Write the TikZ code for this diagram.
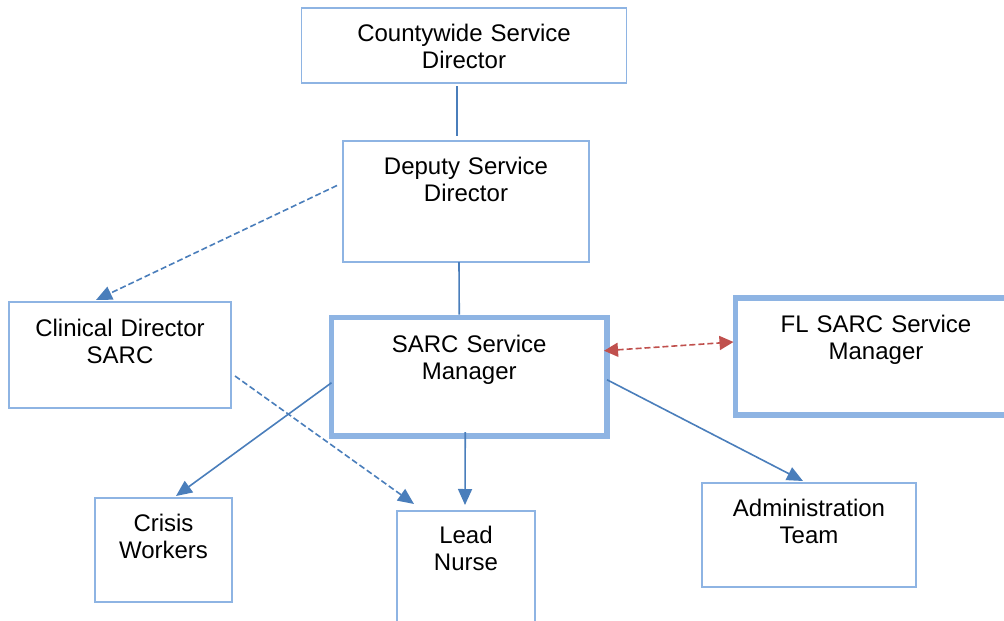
\documentclass[tikz,border=0pt]{standalone}
\usepackage{fontspec}
\setmainfont{Liberation Sans}
\usepackage{xcolor}
\usetikzlibrary{arrows.meta}

\definecolor{boxblue}{HTML}{8EB4E3}
\definecolor{lineblue}{HTML}{4A7EBB}
\definecolor{linkred}{HTML}{C0504D}

\begin{document}
\begin{tikzpicture}[x=1pt,y=-1pt,
        unit/.style={draw=boxblue,line width=1.6pt,anchor=north,inner sep=0pt,outer sep=0pt,
            align=center,font=\fontsize{24}{27.5}\selectfont},
        lead/.style={unit,line width=5.5pt},
        link/.style={draw=lineblue,line width=1.6pt},
        tip/.style={-{Triangle[length=16pt,width=14pt]}},
        dotlink/.style={link,dash pattern=on 6pt off 3pt}]
            \clip (0,0) rectangle (1004,621);
            \useasboundingbox (0,0) rectangle (1004,621);

            \node[unit,text width=325pt,text height=33pt,text depth=42pt] (csd) at (464,8) {Countywide Service\\Director};
            \node[unit,text width=246pt,text height=33pt,text depth=88pt] (dsd) at (466,141) {Deputy Service\\Director};
            \node[unit,text width=222pt,text height=34pt,text depth=72pt] (cds) at (120,302) {Clinical Director\\SARC};
            \node[lead,text width=275.5pt,text height=34.5pt,text depth=84pt] (ssm) at (469.25,317.5) {SARC Service\\Manager};
            \node[lead,text width=281pt,text height=34pt,text depth=83pt] (fsm) at (876,298) {FL SARC Service\\Manager};
            \node[unit,text width=137pt,text height=33pt,text depth=71pt] (cw) at (163.5,498) {Crisis\\Workers};
            \node[unit,text width=138pt,text height=32pt,text depth=97pt] (ln) at (466,511) {Lead\\Nurse};
            \node[unit,text width=214pt,text height=33pt,text depth=71pt] (at) at (809,483) {Administration\\Team};

            % reporting lines
            \draw[link] ([xshift=-7pt,yshift=-3pt]csd.south) -- ([xshift=-9pt,yshift=5pt]dsd.north);
            \draw[link] ([xshift=-7pt]dsd.south) -- ([xshift=-10pt,yshift=3pt]ssm.north);

            \draw[dotlink,tip] ([xshift=-6pt,yshift=16pt]dsd.west) -- ([xshift=-24pt,yshift=2pt]cds.north);
            \draw[dotlink,tip] ([xshift=4pt,yshift=-21pt]cds.east) -- ([xshift=-52pt,yshift=7pt]ln.north);

            \draw[link,tip] ([yshift=-6pt]ssm.west) -- ([xshift=12.5pt,yshift=2pt]cw.north);
            \draw[link,tip] ([xshift=-4pt,yshift=4pt]ssm.south) -- ([xshift=-1pt,yshift=6pt]ln.north);
            \draw[link,tip] ([yshift=-3pt]ssm.east) -- ([xshift=-6pt,yshift=2pt]at.north);

            \draw[dotlink,draw=linkred,{Triangle[length=14pt,width=14pt]}-{Triangle[length=14pt,width=14pt]}]
                ([xshift=-3pt,yshift=26pt]ssm.east) -- ([xshift=-2pt,yshift=14.5pt]fsm.west);
        \end{tikzpicture}
\end{document}
